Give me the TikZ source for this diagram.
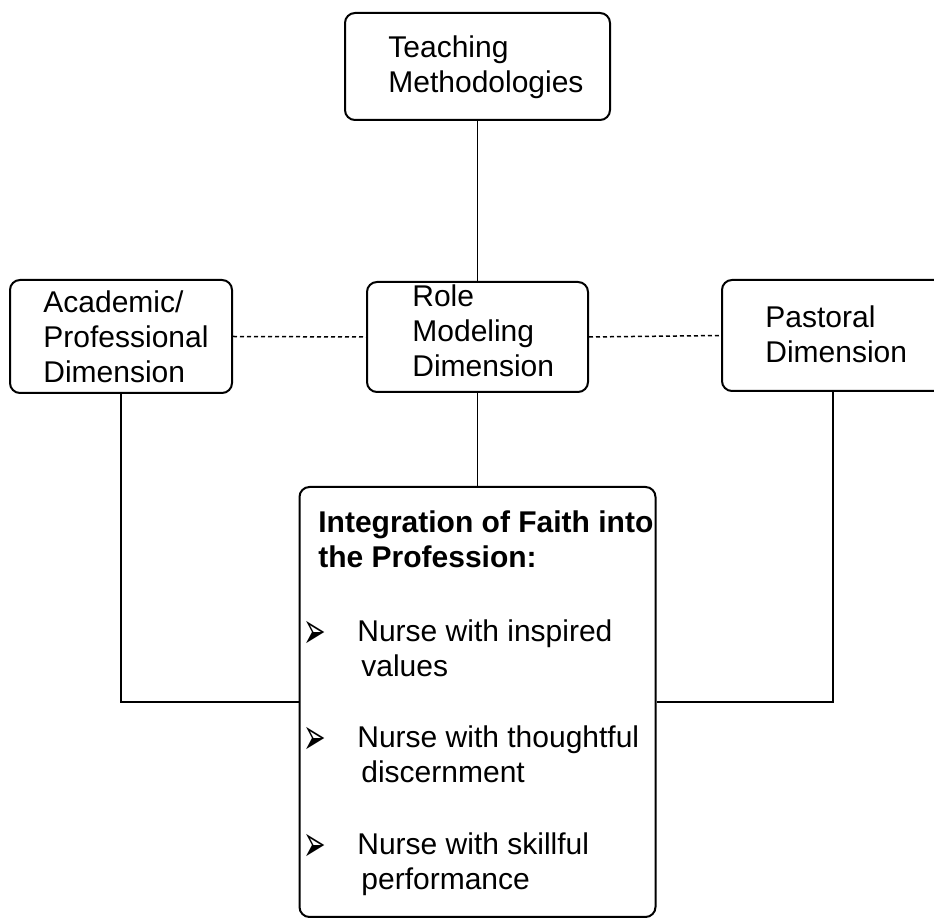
\documentclass[tikz,border=0pt]{standalone}
\usepackage{fontspec}
\usepackage{graphicx}
\setmainfont{Liberation Sans}
\newfontfamily\symfont{DejaVu Sans}
\newcommand{\mlines}[1]{\begin{tabular}[t]{@{}l@{}}#1\end{tabular}}
\newcommand{\arrbul}{\scalebox{0.9}[1.7]{➢}}
\tikzset{
  box/.style={draw, line width=1pt, rounded corners=5pt, inner sep=0pt},
  txt/.style={anchor=base west, inner sep=0pt, font=\fontsize{15}{17.5}\selectfont},
  bul/.style={anchor=base west, inner sep=0pt, font=\symfont\fontsize{15}{15}\selectfont},
  conn/.style={line width=0.75pt},
  dconn/.style={line width=0.75pt, dash pattern=on 2pt off 1.5pt}
}
\begin{document}
\begin{tikzpicture}[x=0.5pt,y=-0.5pt]
\useasboundingbox (0,0) rectangle (934,919);
\clip (0,0) rectangle (934,919);
% boxes
\node[box, minimum width=132.5pt, minimum height=53.5pt] (teach) at (477.5,66.5) {};
\node[box, minimum width=111pt, minimum height=56.5pt] (acad) at (121,336.5) {};
\node[box, minimum width=110.5pt, minimum height=55pt] (role) at (477.5,337) {};
\node[box, minimum width=111pt, minimum height=55.5pt] (past) at (833,335.5) {};
\node[box, minimum width=178pt, minimum height=215pt] (integ) at (477.5,702) {};
% texts
\node[txt] (tteach) at (388,58) {\mlines{Teaching\\Methodologies}};
\node[txt] (tacad) at (43,313) {\mlines{Academic/\\Professional\\Dimension}};
\node[txt] (trole) at (412,307) {\mlines{Role\\Modeling\\Dimension}};
\node[txt] (tpast) at (765,328) {\mlines{Pastoral\\Dimension}};
\node[txt, font=\bfseries\fontsize{15}{17.5}\selectfont] (thead) at (318,533) {\mlines{Integration of Faith into\\the Profession:}};
\node[bul] (b1) at (303,649) {\arrbul};
\node[txt] (i1) at (357,642) {\mlines{Nurse with inspired\\\hspace{2pt}values}};
\node[bul] (b2) at (303,755) {\arrbul};
\node[txt] (i2) at (357,748) {\mlines{Nurse with thoughtful\\\hspace{2pt}discernment}};
\node[bul] (b3) at (303,862) {\arrbul};
\node[txt] (i3) at (357,855) {\mlines{Nurse with skillful\\\hspace{2pt}performance}};
% connectors
\draw[conn] (teach.south) -- (role.north);
\draw[conn] (role.south) -- (integ.north);
\draw[dconn] (acad.east) -- (role.west);
\draw[dconn] (role.east) -- (past.west);
\draw[conn] (acad.south) |- (integ.west);
\draw[conn] (past.south) |- (integ.east);
\end{tikzpicture}
\end{document}
